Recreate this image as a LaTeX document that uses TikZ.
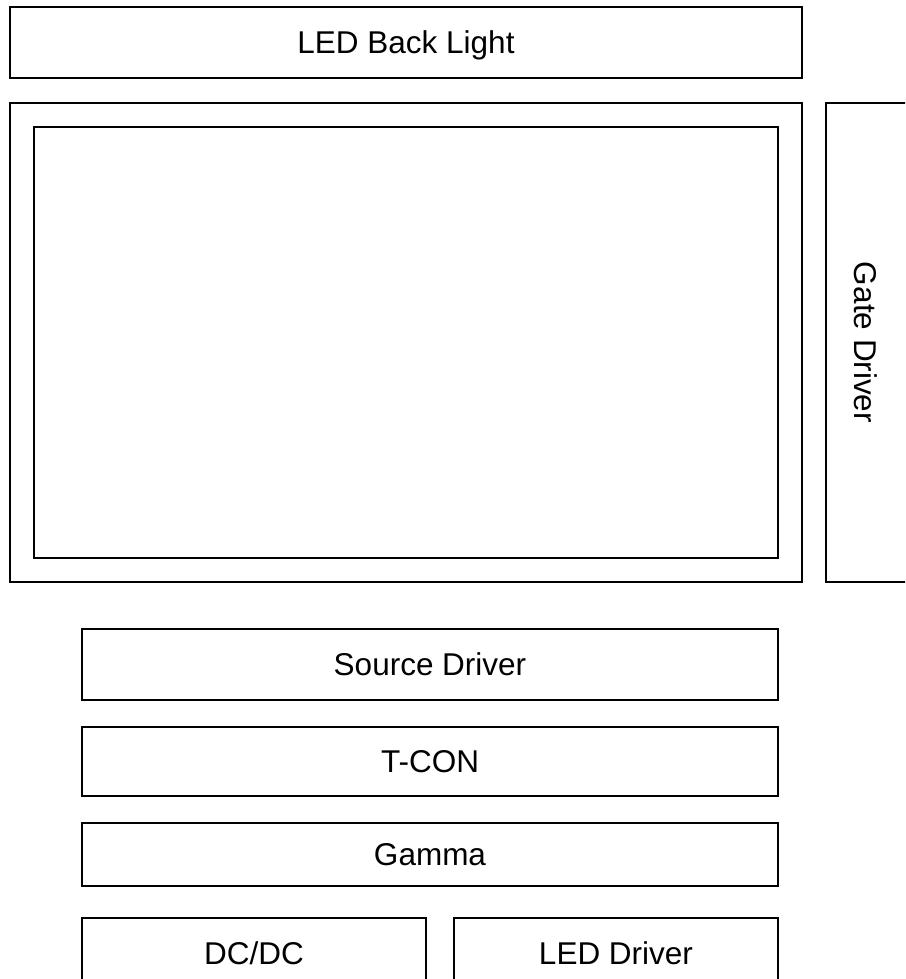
\documentclass[tikz,border=0pt]{standalone}
\usepackage{fontspec}
\setmainfont{Liberation Sans}
\usetikzlibrary{positioning, calc}
\newcommand{\blocktext}{\fontsize{31.5}{38}\selectfont}
\tikzset{
    block/.style={
        draw,
        line width=1.5pt,
        inner sep=0pt,
        text depth=0pt,
        align=center,
        font=\blocktext
    },
    wideblock/.style={
        block,
        minimum width=696pt
    },
    every node/.style={font=\blocktext}
}

\begin{document}
\begin{tikzpicture}[x=1pt, y=-1pt]
\useasboundingbox (0,0) rectangle (905,979);
\clip (0,0) rectangle (905,979);

\node[block, minimum width=792pt, minimum height=71pt] (light) at (406,42.5) {LED Back Light};
\node[block, minimum width=792pt, minimum height=479pt, below=23.5pt of light] (panel) {};
\node[block, minimum width=744pt, minimum height=431pt] (screen) at (panel.center) {};
\node[block, rotate=-90, minimum width=479pt, minimum height=82pt, text height=26pt] (gate) at (867,342.5) {Gate Driver};

\node[wideblock, minimum height=71pt] (src) at (430,664.5) {Source Driver};
\node[wideblock, minimum height=69pt, below=25.5pt of src] (tcon) {T-CON};
\node[wideblock, minimum height=63pt, below=25.5pt of tcon] (gamma) {Gamma};

\node[block, minimum width=344pt, minimum height=70pt, below=30.5pt of gamma.south west, anchor=north west] (dcdc) {DC/DC};
\node[block, minimum width=324pt, minimum height=70pt, below=30.5pt of gamma.south east, anchor=north east] (leddrv) {LED Driver};
\end{tikzpicture}
\end{document}
